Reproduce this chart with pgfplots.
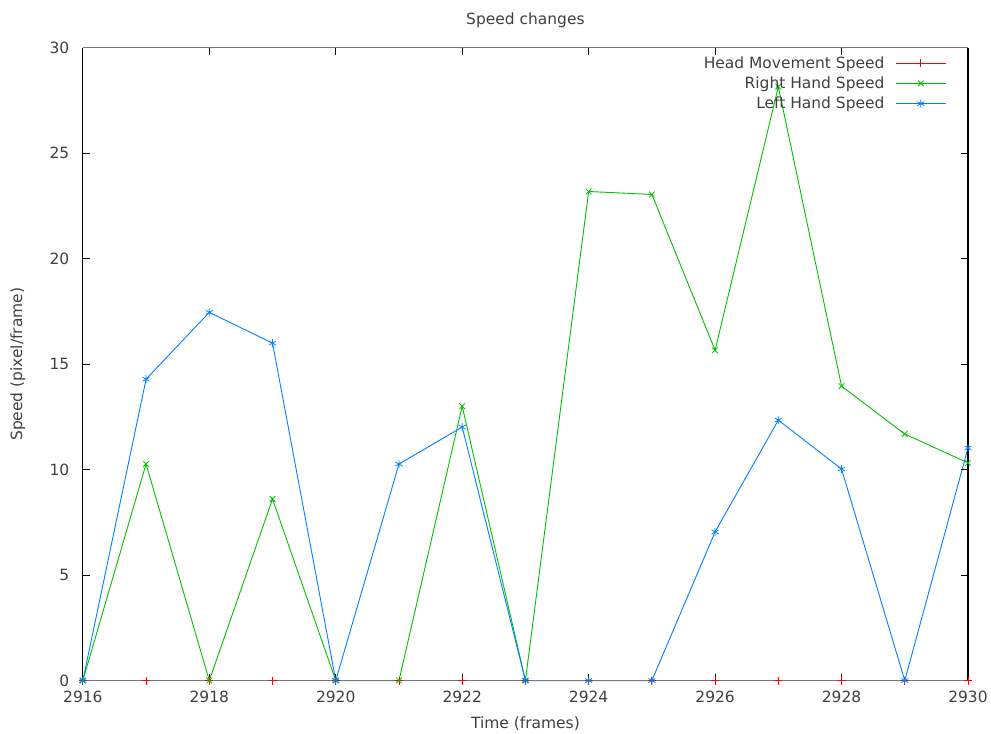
\documentclass[border=0pt]{standalone}
\usepackage{pgfplots}
\pgfplotsset{compat=1.18}
\usepackage{fontspec}
\setmainfont{DejaVu Sans}
\definecolor{gpred}{RGB}{255,0,0}
\definecolor{gpgreen}{RGB}{0,192,0}
\definecolor{gpblue}{RGB}{0,128,255}
\definecolor{gpgray}{RGB}{120,120,120}
\begin{document}
\begin{tikzpicture}
\begin{axis}[
  scale only axis, width=887pt, height=634pt,
  xmin=2916, xmax=2930, ymin=0, ymax=30,
  xtick={2916,2918,...,2930}, ytick={0,5,...,30},
  tick align=inside, major tick length=7pt,
  tick style={black, line width=0.8pt},
  axis line style={line width=1.1pt},
  axis on top,
  separate axis lines,
  x axis line style={gpgray},
  y axis line style={black},
  xticklabel style={yshift=-7pt},
  yticklabel style={xshift=-10pt},
  /pgf/number format/assume math mode=true,
  /pgf/number format/set thousands separator={},
  every tick label/.append style={font=\fontsize{15.5}{18}\selectfont, text=black!75},
  title={Speed changes},
  title style={font=\fontsize{15.5}{18}\selectfont, text=black!75, at={(axis description cs:0.5,1.035)}, anchor=center, yshift=0pt},
  xlabel={Time (frames)}, ylabel={Speed (pixel/frame)},
  label style={font=\fontsize{15.5}{18}\selectfont, text=black!75},
  xlabel style={at={(axis description cs:0.5,-0.0678)}, anchor=center},
  ylabel style={at={(axis description cs:-0.0733,0.5)}, anchor=center},
  legend style={draw=none, fill=none, at={(axis description cs:0.979,0.993)}, anchor=north east,
    font=\fontsize{15.5}{18}\selectfont, text=black!75, row sep=3pt},
  legend cell align=right, legend plot pos=right,
  legend image code/.code={\path (0pt,0pt); \draw[#1] (9pt,0pt) -- (59pt,0pt); \path[#1] plot coordinates {(34pt,0pt)};},
  clip=false,
  every axis plot/.append style={line width=0.9pt, mark size=4pt, mark options={line width=0.8pt}},
]
\path (rel axis cs:-0.0936,-0.0804) rectangle (rel axis cs:1.0237,1.0757);

\addplot[color=gpred, mark=+] coordinates {
  (2916,0) (2917,0) (2918,0) (2919,0) (2920,0) (2921,0) (2922,0) (2923,0)
  (2924,0) (2925,0) (2926,0) (2927,0) (2928,0) (2929,0) (2930,0)
};
\addplot[color=gpgreen, mark=x] coordinates {
  (2916,0) (2917,10.27) (2918,0) (2919,8.61) (2920,0) (2921,0) (2922,13.01) (2923,0)
  (2924,23.19) (2925,23.05) (2926,15.66) (2927,28.16) (2928,13.96) (2929,11.69) (2930,10.32)
};
\addplot[color=gpblue, mark=asterisk] coordinates {
  (2916,0) (2917,14.29) (2918,17.46) (2919,16.0) (2920,0) (2921,10.27) (2922,12.02) (2923,0)
  (2924,0) (2925,0) (2926,7.05) (2927,12.35) (2928,10.03) (2929,0) (2930,11.03)
};
\legend{Head Movement Speed, Right Hand Speed, Left Hand Speed}
\end{axis}
\end{tikzpicture}
\end{document}
